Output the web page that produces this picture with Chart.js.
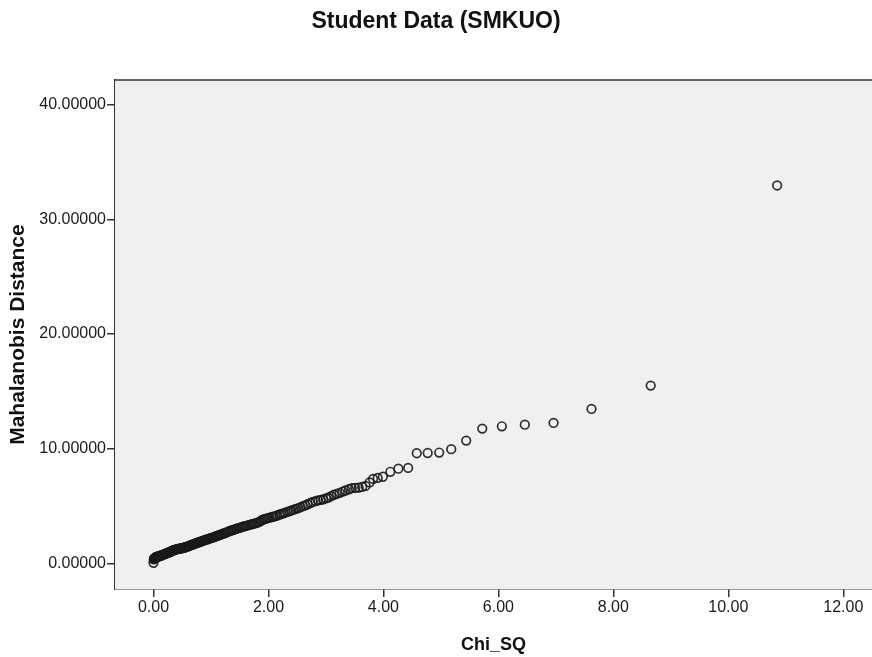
<!DOCTYPE html>
<html>
<head>
<meta charset="utf-8">
<title>Student Data (SMKUO)</title>
<script src="https://cdn.jsdelivr.net/npm/chart.js@4.4.1/dist/chart.umd.min.js"></script>
<style>
  html, body {
    margin: 0;
    padding: 0;
    background: #ffffff;
    overflow: hidden;
  }
  .chart-wrap {
    position: relative;
    width: 872px;
    height: 657px;
  }
</style>
</head>
<body>
<div class="chart-wrap">
  <canvas id="qqChart"></canvas>
</div>
<script>
// Chi-square quantiles (x) and Mahalanobis distances (y)
const chiSq = [
  0.00, 0.005, 0.01, 0.015, 0.02, 0.025, 0.03, 0.035, 0.04, 0.045,
  0.05, 0.055, 0.06, 0.07, 0.075, 0.08, 0.09, 0.10, 0.105, 0.11,
  0.12, 0.13, 0.14, 0.15, 0.16, 0.17, 0.18, 0.19, 0.20, 0.21,
  0.22, 0.23, 0.24, 0.25, 0.26, 0.27, 0.28, 0.29, 0.30, 0.31,
  0.32, 0.33, 0.34, 0.35, 0.36, 0.37, 0.38, 0.40, 0.41, 0.42,
  0.44, 0.45, 0.46, 0.47, 0.49, 0.50, 0.52, 0.53, 0.54, 0.55,
  0.57, 0.58, 0.60, 0.61, 0.63, 0.64, 0.66, 0.67, 0.69, 0.70,
  0.72, 0.73, 0.75, 0.77, 0.79, 0.80, 0.82, 0.83, 0.85, 0.87,
  0.89, 0.90, 0.92, 0.94, 0.96, 0.98, 1.00, 1.02, 1.04, 1.06,
  1.08, 1.10, 1.12, 1.14, 1.16, 1.18, 1.21, 1.23, 1.25, 1.27,
  1.30, 1.32, 1.34, 1.36, 1.39, 1.41, 1.44, 1.46, 1.49, 1.51,
  1.54, 1.56, 1.59, 1.61, 1.64, 1.67, 1.70, 1.72, 1.75, 1.78,
  1.81, 1.84, 1.87, 1.90, 1.93, 1.96, 1.99, 2.02, 2.06, 2.09,
  2.12, 2.15, 2.19, 2.22, 2.26, 2.29, 2.33, 2.37, 2.40, 2.44,
  2.48, 2.52, 2.56, 2.60, 2.64, 2.68, 2.73, 2.77, 2.82, 2.86,
  2.91, 2.95, 3.00, 3.04, 3.09, 3.14, 3.19, 3.24, 3.29, 3.34,
  3.40, 3.45, 3.51, 3.57, 3.63, 3.69, 3.76, 3.82, 3.90, 3.99,
  4.12, 4.26, 4.43, 4.58, 4.77, 4.97, 5.18, 5.44, 5.72, 6.06,
  6.46, 6.96, 7.62, 8.65, 10.85,
];
const mahalanobis = [
  0.05, 0.35, 0.40, 0.42, 0.45, 0.47, 0.50, 0.50, 0.52, 0.53,
  0.55, 0.55, 0.56, 0.58, 0.59, 0.60, 0.61, 0.62, 0.63, 0.65,
  0.66, 0.68, 0.70, 0.72, 0.74, 0.76, 0.78, 0.80, 0.83, 0.85,
  0.86, 0.88, 0.90, 0.92, 0.94, 0.96, 0.98, 1.00, 1.03, 1.05,
  1.08, 1.10, 1.12, 1.14, 1.16, 1.18, 1.19, 1.22, 1.23, 1.25,
  1.26, 1.27, 1.28, 1.30, 1.31, 1.32, 1.34, 1.36, 1.38, 1.40,
  1.43, 1.45, 1.48, 1.50, 1.54, 1.56, 1.60, 1.62, 1.66, 1.68,
  1.72, 1.74, 1.77, 1.80, 1.84, 1.86, 1.90, 1.92, 1.95, 1.98,
  2.02, 2.04, 2.07, 2.10, 2.14, 2.17, 2.20, 2.24, 2.27, 2.31,
  2.34, 2.38, 2.41, 2.45, 2.49, 2.53, 2.58, 2.62, 2.66, 2.70,
  2.76, 2.80, 2.84, 2.88, 2.92, 2.96, 3.01, 3.05, 3.09, 3.12,
  3.17, 3.20, 3.24, 3.27, 3.31, 3.35, 3.39, 3.42, 3.46, 3.50,
  3.55, 3.62, 3.71, 3.80, 3.86, 3.90, 3.94, 3.98, 4.04, 4.08,
  4.12, 4.17, 4.24, 4.30, 4.36, 4.42, 4.48, 4.55, 4.61, 4.68,
  4.75, 4.82, 4.90, 4.98, 5.06, 5.15, 5.26, 5.35, 5.42, 5.48,
  5.53, 5.58, 5.66, 5.72, 5.85, 5.98, 6.06, 6.15, 6.26, 6.35,
  6.46, 6.55, 6.58, 6.60, 6.66, 6.75, 7.05, 7.36, 7.45, 7.55,
  7.98, 8.25, 8.32, 9.60, 9.62, 9.66, 9.95, 10.70, 11.75, 11.95,
  12.09, 12.24, 13.46, 15.50, 32.95,
];
const xTicks = [0, 2, 4, 6, 8, 10, 12];
const yTicks = [0, 10, 20, 30, 40];

document.addEventListener("DOMContentLoaded", function () {
  Chart.defaults.font.family = "'Liberation Sans', Arial, sans-serif";
  Chart.defaults.color = "#1a1a1a";

  const points = chiSq.map((x, i) => ({ x: x, y: mahalanobis[i] }));

  // grey plot background and the top frame line
  const plotFrame = {
    id: "plotFrame",
    beforeDatasetsDraw(chart) {
      const { ctx, chartArea } = chart;
      ctx.save();
      ctx.fillStyle = "#f0f0f0";
      ctx.fillRect(
        chartArea.left,
        chartArea.top,
        chartArea.right - chartArea.left,
        chartArea.bottom - chartArea.top
      );
      ctx.restore();
    },
    afterDraw(chart) {
      const { ctx, chartArea } = chart;
      ctx.save();
      ctx.strokeStyle = "#333333";
      ctx.lineWidth = 1.5;
      ctx.beginPath();
      ctx.moveTo(chartArea.left, chartArea.top);
      ctx.lineTo(chartArea.right, chartArea.top);
      ctx.stroke();
      ctx.restore();
    },
  };

  const ctx = document.getElementById("qqChart");

  new Chart(ctx, {
    type: "scatter",
    data: {
      datasets: [
        {
          label: "Mahalanobis Distance",
          data: points,
          pointStyle: "circle",
          pointRadius: 4.3,
          pointHoverRadius: 4.3,
          pointBorderWidth: 1.7,
          borderColor: "rgba(25, 25, 25, 0.9)",
          backgroundColor: "rgba(0, 0, 0, 0)",
        },
      ],
    },
    options: {
      responsive: true,
      maintainAspectRatio: false,
      animation: false,
      layout: {
        autoPadding: false,
        padding: { left: 0, right: 0, top: 0, bottom: 0 },
      },
      plugins: {
        legend: { display: false },
        tooltip: { enabled: false },
        title: {
          display: true,
          text: "Student Data (SMKUO)",
          color: "#111111",
          font: { size: 23, weight: "bold" },
          padding: { top: 8, bottom: 44.5 },
        },
      },
      scales: {
        x: {
          type: "linear",
          min: -0.67,
          max: 12.5,
          afterBuildTicks: (scale) => {
            scale.ticks = xTicks.map((v) => ({ value: v }));
          },
          afterFit: (scale) => {
            scale.height = 68;
          },
          ticks: {
            font: { size: 16 },
            padding: 1,
            maxRotation: 0,
            callback: (value) => Number(value).toFixed(2),
          },
          grid: {
            drawOnChartArea: false,
            drawTicks: true,
            tickLength: 8,
            color: "#333333",
            lineWidth: 1.5,
          },
          border: { display: true, color: "#333333", width: 1.5 },
          title: {
            display: true,
            text: "Chi_SQ",
            color: "#111111",
            font: { size: 18, weight: "bold" },
            padding: { top: 0, bottom: 1 },
          },
        },
        y: {
          type: "linear",
          min: -2.24,
          max: 42.14,
          afterBuildTicks: (scale) => {
            scale.ticks = yTicks.map((v) => ({ value: v }));
          },
          afterFit: (scale) => {
            scale.width = 115;
          },
          ticks: {
            font: { size: 16 },
            padding: 1,
            callback: (value) => Number(value).toFixed(5),
          },
          grid: {
            drawOnChartArea: false,
            drawTicks: true,
            tickLength: 8,
            color: "#333333",
            lineWidth: 1.5,
          },
          border: { display: true, color: "#333333", width: 1.5 },
          title: {
            display: true,
            text: "Mahalanobis Distance",
            color: "#111111",
            font: { size: 21, weight: "bold" },
            padding: { top: 6, bottom: 0 },
          },
        },
      },
    },
    plugins: [plotFrame],
  });
});
</script>
</body>
</html>
